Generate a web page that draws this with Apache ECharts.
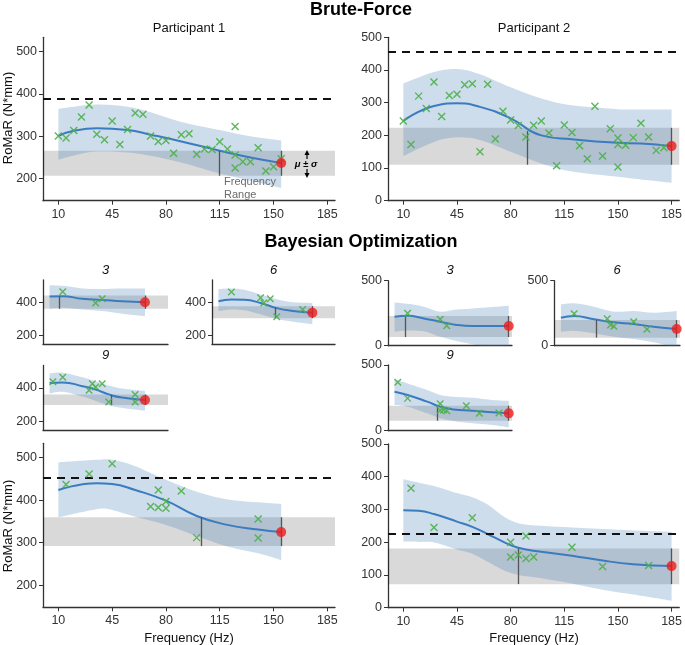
<!DOCTYPE html>
<html><head><meta charset="utf-8">
<script src="https://cdn.jsdelivr.net/npm/echarts@6/dist/echarts.min.js"></script>
<style>html,body{margin:0;padding:0;background:#fff}#c{width:685px;height:645px}</style>
</head><body><div id="c"></div>
<script>
// ---------- tick labels ----------
const xTicks = [10, 45, 80, 115, 150, 185];
const yTicksP1 = [200, 300, 400, 500];
const yTicksP2 = [0, 100, 200, 300, 400, 500];
const yTicksP1Small = [200, 400];
const yTicksP2Small = [0, 500];

// ---------- Brute-Force, Participant 1 ----------
const bf1Freq  = [10, 20, 35, 55, 70, 90, 115, 135, 155];
const bf1Mean  = [301, 313, 319, 315, 304, 288, 266, 250, 237];
const bf1Upper = [365, 370, 375, 370, 357, 334, 315, 300, 290];
const bf1Lower = [245, 255, 264, 262, 254, 238, 212, 195, 178];
const bf1PtsX  = [10,15,20,25,30,35,40,45,50,55,60,65,70,75,80,85,90,95,100,105,110,115,120,125,125,125,130,135,140,145,150,155];
const bf1PtsY  = [301,296,314,346,374,305,292,336,281,316,355,352,301,288,290,260,304,306,258,270,269,287,270,323,256,225,240,240,273,218,228,247];
const bf1Band = [207, 266], bf1Dashed = 390, bf1Range = [115, 266], bf1Best = [155, 237];

// ---------- Brute-Force, Participant 2 ----------
const bf2Freq  = [10, 30, 45, 60, 80, 100, 120, 150, 165, 185];
const bf2Mean  = [244, 290, 298, 287, 252, 200, 188, 177, 175, 167];
const bf2Upper = [359, 394, 403, 387, 347, 313, 292, 280, 279, 279];
const bf2Lower = [137, 180, 194, 186, 150, 114, 89, 73, 65, 55];
const bf2PtsX  = [10,15,20,25,30,35,40,45,50,55,60,65,70,75,80,85,90,95,100,105,110,115,120,125,130,135,140,145,150,150,150,155,160,165,170,175,180];
const bf2PtsY  = [244,172,320,282,363,258,322,326,355,358,150,356,189,274,247,230,195,231,244,207,107,232,209,168,128,289,137,220,192,172,103,170,193,237,195,154,162];
const bf2Band = [110, 223], bf2Dashed = 456, bf2Range = [91, 213], bf2Best = [185, 167];

// ---------- BO, Participant 1, iteration 3 ----------
const bo1i3Freq  = [10, 30, 60, 90, 120, 155];
const bo1i3Mean  = [435, 437, 421, 414, 406, 400];
const bo1i3Upper = [503, 499, 483, 480, 483, 483];
const bo1i3Lower = [361, 367, 357, 348, 332, 318];
const bo1i3PtsX = [30, 80, 90], bo1i3PtsY = [464, 396, 421];
const bo1i3Band = [361, 441], bo1i3Range = [25, 436], bo1i3Best = [155, 400];

// ---------- BO, Participant 1, iteration 6 ----------
const bo1i6Freq  = [10, 30, 50, 75, 100, 125, 155];
const bo1i6Mean  = [406, 417, 415, 396, 365, 348, 338];
const bo1i6Upper = [480, 483, 475, 447, 418, 400, 396];
const bo1i6Lower = [348, 357, 352, 328, 300, 284, 270];
const bo1i6PtsX = [30, 75, 80, 90, 100, 140], bo1i6PtsY = [462, 427, 396, 421, 313, 357];
const bo1i6Band = [305, 377], bo1i6Range = [97, 370], bo1i6Best = [155, 338];

// ---------- BO, Participant 1, iteration 9 ----------
const bo1i9Freq  = [10, 30, 60, 80, 100, 120, 155];
const bo1i9Mean  = [429, 433, 410, 390, 361, 342, 328];
const bo1i9Upper = [487, 491, 464, 440, 414, 396, 381];
const bo1i9Lower = [367, 377, 348, 322, 296, 280, 264];
const bo1i9PtsX = [15, 30, 70, 75, 80, 90, 100, 140, 140], bo1i9PtsY = [437, 464, 386, 425, 406, 425, 315, 361, 315];
const bo1i9Band = [297, 361], bo1i9Range = [104, 358], bo1i9Best = [155, 328];

// ---------- BO, Participant 2, iteration 3 ----------
const bo2i3Freq  = [10, 30, 55, 80, 105, 130, 185];
const bo2i3Mean  = [223, 231, 210, 185, 160, 151, 151];
const bo2i3Upper = [333, 322, 300, 262, 278, 287, 308];
const bo2i3Lower = [108, 117, 112, 69, 37, 12, -40];
const bo2i3PtsX = [30, 80, 90], bo2i3PtsY = [249, 203, 154];
const bo2i3Band = [67, 228], bo2i3Range = [27, 223], bo2i3Best = [185, 151];

// ---------- BO, Participant 2, iteration 6 ----------
const bo2i6Freq  = [10, 30, 60, 90, 120, 150, 185];
const bo2i6Mean  = [215, 228, 203, 180, 167, 146, 128];
const bo2i6Upper = [318, 326, 300, 262, 267, 254, 267];
const bo2i6Lower = [108, 115, 95, 69, 51, 26, -15];
const bo2i6PtsX = [30, 80, 85, 90, 120, 140], bo2i6PtsY = [246, 208, 159, 149, 185, 126];
const bo2i6Band = [62, 197], bo2i6Range = [64, 197], bo2i6Best = [185, 128];

// ---------- BO, Participant 2, iteration 9 ----------
const bo2i9Freq  = [10, 30, 60, 80, 100, 130, 160, 185];
const bo2i9Mean  = [297, 272, 221, 183, 162, 152, 140, 132];
const bo2i9Upper = [391, 360, 310, 272, 259, 251, 233, 226];
const bo2i9Lower = [195, 183, 132, 94, 74, 56, 43, 25];
const bo2i9PtsX = [15, 30, 80, 80, 85, 90, 120, 140, 170], bo2i9PtsY = [368, 246, 205, 155, 158, 152, 190, 132, 134];
const bo2i9Band = [76, 190], bo2i9Range = [75, 192], bo2i9Best = [185, 132];

// ---------- BO final, Participant 1 ----------
const bo1fFreq  = [10, 35, 45, 60, 80, 100, 120, 140, 155];
const bo1fMean  = [424, 440, 438, 424, 399, 363, 342, 331, 325];
const bo1fUpper = [489, 495, 495, 480, 448, 420, 402, 395, 391];
const bo1fLower = [360, 379, 377, 361, 342, 316, 291, 275, 259];
const bo1fPtsX = [15, 30, 45, 70, 75, 75, 80, 80, 90, 100, 140, 140];
const bo1fPtsY = [437, 462, 486, 385, 424, 383, 397, 381, 422, 312, 356, 311];
const bo1fBand = [292, 360], bo1fDashed = 454, bo1fRange = [103, 360], bo1fBest = [155, 325];

// ---------- BO final, Participant 2 ----------
const bo2fFreq  = [10, 20, 30, 45, 55, 65, 75, 85, 100, 120, 140, 160, 185];
const bo2fMean  = [298, 296, 286, 263, 247, 225, 202, 183, 171, 159, 144, 133, 127];
const bo2fUpper = [392, 382, 372, 350, 337, 315, 280, 258, 250, 245, 240, 236, 232];
const bo2fLower = [202, 201, 199, 178, 165, 140, 115, 100, 90, 74, 55, 40, 21];
const bo2fPtsX = [15, 30, 55, 80, 80, 85, 90, 90, 95, 120, 140, 170];
const bo2fPtsY = [365, 245, 275, 200, 155, 161, 219, 150, 155, 185, 126, 129];
const bo2fBand = [72, 181], bo2fDashed = 225, bo2fRange = [85, 181], bo2fBest = [185, 127];

// ---------- panels (layout + data references) ----------
const panels = [
  {g:{left:43, top:37.3, width:292, height:163.4}, yr:[148,534], yt:yTicksP1, big:true,
   f:bf1Freq, m:bf1Mean, u:bf1Upper, l:bf1Lower, px:bf1PtsX, py:bf1PtsY, band:bf1Band, dash:bf1Dashed, range:bf1Range, best:bf1Best},
  {g:{left:388, top:37.3, width:292, height:163.4}, yr:[0,500], yt:yTicksP2, big:true,
   f:bf2Freq, m:bf2Mean, u:bf2Upper, l:bf2Lower, px:bf2PtsX, py:bf2PtsY, band:bf2Band, dash:bf2Dashed, range:bf2Range, best:bf2Best},
  {g:{left:43, top:280, width:125, height:64.3}, yr:[148,534], yt:yTicksP1Small, big:false,
   f:bo1i3Freq, m:bo1i3Mean, u:bo1i3Upper, l:bo1i3Lower, px:bo1i3PtsX, py:bo1i3PtsY, band:bo1i3Band, range:bo1i3Range, best:bo1i3Best},
  {g:{left:212, top:280, width:123, height:64.3}, yr:[148,534], yt:yTicksP1Small, big:false,
   f:bo1i6Freq, m:bo1i6Mean, u:bo1i6Upper, l:bo1i6Lower, px:bo1i6PtsX, py:bo1i6PtsY, band:bo1i6Band, range:bo1i6Range, best:bo1i6Best},
  {g:{left:43, top:365.5, width:125, height:64.5}, yr:[148,534], yt:yTicksP1Small, big:false,
   f:bo1i9Freq, m:bo1i9Mean, u:bo1i9Upper, l:bo1i9Lower, px:bo1i9PtsX, py:bo1i9PtsY, band:bo1i9Band, range:bo1i9Range, best:bo1i9Best},
  {g:{left:388, top:280.7, width:124, height:65}, yr:[0,500], yt:yTicksP2Small, big:false,
   f:bo2i3Freq, m:bo2i3Mean, u:bo2i3Upper, l:bo2i3Lower, px:bo2i3PtsX, py:bo2i3PtsY, band:bo2i3Band, range:bo2i3Range, best:bo2i3Best},
  {g:{left:554.3, top:280.7, width:125.7, height:65}, yr:[0,500], yt:yTicksP2Small, big:false,
   f:bo2i6Freq, m:bo2i6Mean, u:bo2i6Upper, l:bo2i6Lower, px:bo2i6PtsX, py:bo2i6PtsY, band:bo2i6Band, range:bo2i6Range, best:bo2i6Best},
  {g:{left:388, top:365, width:124, height:65.7}, yr:[0,500], yt:yTicksP2Small, big:false,
   f:bo2i9Freq, m:bo2i9Mean, u:bo2i9Upper, l:bo2i9Lower, px:bo2i9PtsX, py:bo2i9PtsY, band:bo2i9Band, range:bo2i9Range, best:bo2i9Best},
  {g:{left:43, top:443.3, width:292, height:164}, yr:[148,534], yt:yTicksP1, big:true,
   f:bo1fFreq, m:bo1fMean, u:bo1fUpper, l:bo1fLower, px:bo1fPtsX, py:bo1fPtsY, band:bo1fBand, dash:bo1fDashed, range:bo1fRange, best:bo1fBest},
  {g:{left:388, top:444, width:292, height:163.7}, yr:[0,500], yt:yTicksP2, big:true,
   f:bo2fFreq, m:bo2fMean, u:bo2fUpper, l:bo2fLower, px:bo2fPtsX, py:bo2fPtsY, band:bo2fBand, dash:bo2fDashed, range:bo2fRange, best:bo2fBest}
];

const FONT = '"Liberation Sans", Arial, Helvetica, sans-serif';
const AXC = '#333';
const BLUE = '#3b7bbf', GREEN = '#4daf4a', RED = '#ee1c1c';

function spline(pts) {
  let d = '';
  for (let i = 0; i < pts.length - 1; i++) {
    const p0 = pts[Math.max(i - 1, 0)], p1 = pts[i], p2 = pts[i + 1], p3 = pts[Math.min(i + 2, pts.length - 1)];
    const c1 = [p1[0] + (p2[0] - p0[0]) / 6, p1[1] + (p2[1] - p0[1]) / 6];
    const c2 = [p2[0] - (p3[0] - p1[0]) / 6, p2[1] - (p3[1] - p1[1]) / 6];
    d += 'C' + c1[0] + ',' + c1[1] + ' ' + c2[0] + ',' + c2[1] + ' ' + p2[0] + ',' + p2[1];
  }
  return d;
}

const grid = [], xAxis = [], yAxis = [], series = [];
panels.forEach((p, i) => {
  grid.push(Object.assign({containLabel: false}, p.g));
  xAxis.push({
    gridIndex: i, type: 'value', min: 0, max: 190,
    axisLine: {show: true, onZero: false, lineStyle: {color: AXC, width: 1.3}},
    axisTick: {show: p.big, length: 4, customValues: xTicks, lineStyle: {color: AXC}},
    axisLabel: {show: p.big, customValues: xTicks, margin: 7, fontSize: 12.5, color: '#333', fontFamily: FONT},
    splitLine: {show: false}
  });
  yAxis.push({
    gridIndex: i, type: 'value', min: p.yr[0], max: p.yr[1],
    axisLine: {show: true, onZero: false, lineStyle: {color: AXC, width: 1.3}},
    axisTick: {show: true, length: 4, customValues: p.yt, lineStyle: {color: AXC}},
    axisLabel: {show: true, customValues: p.yt, margin: 6, fontSize: 12.5, color: '#333', fontFamily: FONT},
    splitLine: {show: false}
  });
  const markLineData = [];
  if (p.dash !== undefined) markLineData.push({yAxis: p.dash});
  series.push({
    type: 'line', xAxisIndex: i, yAxisIndex: i, data: [], silent: true, z: 1,
    markArea: {silent: true, itemStyle: {color: 'rgba(0,0,0,0.15)'}, data: [[{yAxis: p.band[0]}, {yAxis: p.band[1]}]]},
    markLine: {silent: true, symbol: ['none', 'none'], label: {show: false},
      lineStyle: {color: '#111', width: 2, type: [8, 6]}, data: markLineData}
  });
  series.push({
    type: 'custom', xAxisIndex: i, yAxisIndex: i, clip: true, silent: true, z: 2,
    data: [[p.f[0], p.m[0]]],
    renderItem: function (params, api) {
      const up = p.f.map((f, k) => api.coord([f, p.u[k]]));
      const lo = p.f.map((f, k) => api.coord([f, p.l[k]])).reverse();
      const d = 'M' + up[0][0] + ',' + up[0][1] + spline(up) + 'L' + lo[0][0] + ',' + lo[0][1] + spline(lo) + 'Z';
      return {type: 'path', shape: {pathData: d}, style: {fill: 'rgba(70,130,180,0.27)', stroke: null}};
    }
  });
  series.push({
    type: 'line', xAxisIndex: i, yAxisIndex: i, smooth: true, showSymbol: false, silent: true, z: 4,
    data: p.f.map((f, k) => [f, p.m[k]]),
    lineStyle: {color: BLUE, width: 2},
    markLine: {silent: true, symbol: ['none', 'none'], label: {show: false},
      lineStyle: {color: '#555', width: 1.3, type: 'solid'},
      data: [
        [{coord: [p.range[0], p.range[1]]}, {coord: [p.range[0], p.band[0]]}],
        [{coord: [p.best[0], p.band[1]]}, {coord: [p.best[0], p.band[0]]}]
      ]}
  });
  series.push({
    type: 'scatter', xAxisIndex: i, yAxisIndex: i, silent: true, z: 5,
    symbol: 'path://M0,0L10,10M10,0L0,10', symbolSize: p.big ? 7 : 6.5,
    itemStyle: {color: 'rgba(0,0,0,0)', borderColor: GREEN, borderWidth: 1.4, opacity: 0.9},
    data: p.px.map((x, k) => [x, p.py[k]])
  });
  series.push({
    type: 'scatter', xAxisIndex: i, yAxisIndex: i, silent: true, z: 6,
    symbol: 'circle', symbolSize: 10, itemStyle: {color: RED},
    data: [p.best]
  });
});

function txt(text, x, y, size, opts) {
  return Object.assign({type: 'text', x: x, y: y, silent: true, z: 100,
    style: Object.assign({text: text, fontSize: size, fontFamily: FONT, fill: '#111',
      align: 'center', verticalAlign: 'middle', textAlign: 'center', textVerticalAlign: 'middle'}, opts && opts.style || {})},
    opts && opts.el || {});
}

const graphic = [
  txt('Brute-Force', 361, 10, 18, {style: {fontWeight: 'bold', fill: '#000'}}),
  txt('Bayesian Optimization', 361, 242, 18, {style: {fontWeight: 'bold', fill: '#000'}}),
  txt('Participant 1', 189, 28, 13),
  txt('Participant 2', 534, 28, 13),
  txt('3', 105.5, 270, 13, {style: {fontStyle: 'italic'}}),
  txt('6', 273.5, 270, 13, {style: {fontStyle: 'italic'}}),
  txt('9', 105.5, 355, 13, {style: {fontStyle: 'italic'}}),
  txt('3', 450, 270, 13, {style: {fontStyle: 'italic'}}),
  txt('6', 617, 270, 13, {style: {fontStyle: 'italic'}}),
  txt('9', 450, 355, 13, {style: {fontStyle: 'italic'}}),
  txt('RoMaR (N*mm)', 8.5, 118, 13, {el: {rotation: Math.PI / 2}}),
  txt('RoMaR (N*mm)', 8.5, 526, 13, {el: {rotation: Math.PI / 2}}),
  txt('Frequency (Hz)', 189, 638, 13),
  txt('Frequency (Hz)', 534, 638, 13),
  txt('Frequency', 224, 182, 11, {style: {align: 'left', textAlign: 'left', fill: '#6b6b6b'}}),
  txt('Range', 224, 194.5, 11, {style: {align: 'left', textAlign: 'left', fill: '#6b6b6b'}}),
  txt('\u03bc \u00b1 \u03c3', 306, 164, 9.5, {style: {fontWeight: 'bold', fontStyle: 'italic', fill: '#000'}}),
  {type: 'line', silent: true, z: 100, shape: {x1: 307, y1: 154, x2: 307, y2: 159}, style: {stroke: '#000', lineWidth: 1.2}},
  {type: 'polygon', silent: true, z: 100, shape: {points: [[304.5, 155], [309.5, 155], [307, 150]]}, style: {fill: '#000'}},
  {type: 'line', silent: true, z: 100, shape: {x1: 307, y1: 169, x2: 307, y2: 174}, style: {stroke: '#000', lineWidth: 1.2}},
  {type: 'polygon', silent: true, z: 100, shape: {points: [[304.5, 173], [309.5, 173], [307, 178]]}, style: {fill: '#000'}}
];

const chart = echarts.init(document.getElementById('c'), null, {renderer: 'canvas'});
chart.setOption({
  animation: false,
  backgroundColor: '#fff',
  textStyle: {fontFamily: FONT},
  grid: grid, xAxis: xAxis, yAxis: yAxis, series: series, graphic: graphic
});
</script></body></html>
